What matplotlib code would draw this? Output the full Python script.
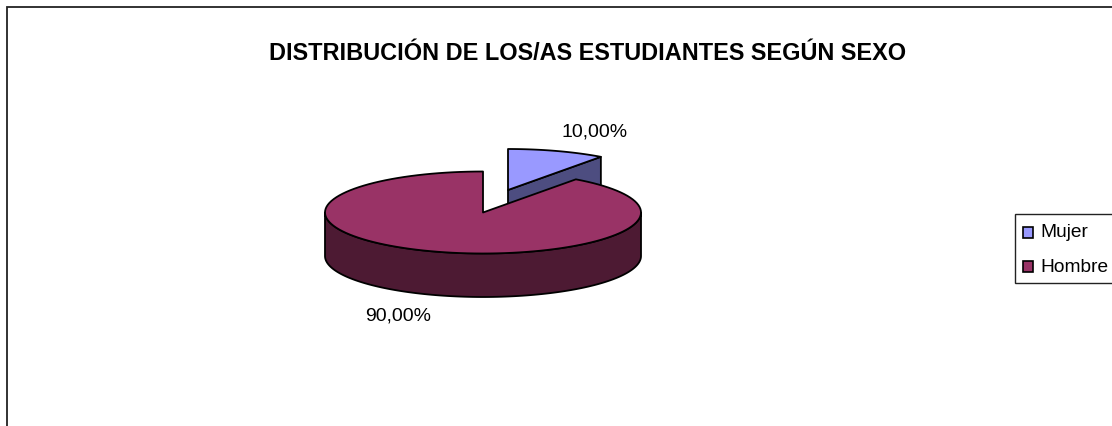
import numpy as np
import matplotlib
matplotlib.use("Agg")
import matplotlib.pyplot as plt
from matplotlib.patches import Polygon, Rectangle

plt.rcParams['font.family'] = ['Liberation Sans', 'DejaVu Sans']

title = "DISTRIBUCIÓN DE LOS/AS ESTUDIANTES SEGÚN SEXO"
categories = ["Mujer", "Hombre"]
shares = [10.0, 90.0]
top_colors = ["#9999FF", "#993366"]
side_colors = ["#4D4D80", "#4D1A33"]

W, H = 1112, 427
fig = plt.figure(figsize=(W / 100, H / 100), dpi=100)
ax = fig.add_axes([0, 0, 1, 1])
ax.set_xlim(0, W)
ax.set_ylim(H, 0)
ax.axis("off")

ax.add_patch(Rectangle((7, 8), W + 50, H + 50, fc="white", ec="#222222", lw=1.3))

RX, RY, DEPTH = 158, 41, 43.5
CENTER = (483, 213.5)
EXPLODE = (25, -22.5)
LW = 1.3


def rim(cx, cy, deg):
    a = np.radians(deg)
    return cx + RX * np.sin(a), cy - RY * np.cos(a)


def arc(cx, cy, d0, d1, dy=0):
    d = np.linspace(d0, d1, 120)
    x, y = rim(cx, cy, d)
    return np.column_stack([x, y + dy])


edges = np.concatenate([[0], np.cumsum(shares)]) * 3.6

# Mujer: pulled-out slice, cut face first and top surface above it
d0, d1 = edges[0], edges[1]
cx, cy = CENTER[0] + EXPLODE[0], CENTER[1] + EXPLODE[1]
rx_end, ry_end = rim(cx, cy, d1)
ax.add_patch(Polygon([(cx, cy), (rx_end, ry_end), (rx_end, ry_end + DEPTH), (cx, cy + DEPTH)],
                     closed=True, fc=side_colors[0], ec="black", lw=LW, joinstyle="round"))
ax.add_patch(Polygon(np.vstack([[(cx, cy)], arc(cx, cy, d0, d1)]),
                     closed=True, fc=top_colors[0], ec="black", lw=LW, joinstyle="round"))

# Hombre: front wall (90 to 270 degrees) then top surface
d0, d1 = edges[1], edges[2]
cx, cy = CENTER
front = np.vstack([arc(cx, cy, 90, 270), arc(cx, cy, 270, 90, DEPTH)])
ax.add_patch(Polygon(front, closed=True, fc=side_colors[1], ec="black", lw=LW, joinstyle="round"))
ax.add_patch(Polygon(np.vstack([[(cx, cy)], arc(cx, cy, d0, d1)]),
                     closed=True, fc=top_colors[1], ec="black", lw=LW, joinstyle="round"))

# Text
ax.text(588, 53.5, title, ha="center", va="center", fontsize=16.9, fontweight="bold", color="black")
label_pos = [(594.5, 132), (398, 316.5)]
for share, (x, y) in zip(shares, label_pos):
    ax.text(x, y, f"{share:.2f}%".replace(".", ","), ha="center", va="center",
            fontsize=14, color="black")

# Legend
ax.add_patch(Rectangle((1015, 215), W, 69, fc="white", ec="#222222", lw=1.0, zorder=5))
for i, (name, col) in enumerate(zip(categories, top_colors)):
    y = 233 + i * 34.5
    ax.add_patch(Rectangle((1022.5, y - 5.5), 10.5, 11, fc=col, ec="black", lw=1.2, zorder=6))
    ax.text(1040.5, y, name, ha="left", va="center", fontsize=13.8, color="black", zorder=6)

fig.savefig("out.png", dpi=100, facecolor="white")
